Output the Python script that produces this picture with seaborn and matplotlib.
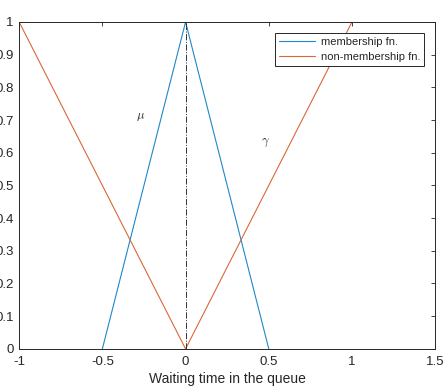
import matplotlib
matplotlib.use("Agg")
import matplotlib.pyplot as plt
import seaborn as sns
import numpy as np
import pandas as pd

mem_x = [-0.5, 0.0, 0.5]
mem_y = [0.0, 1.0, 0.0]
non_x = [-1.0, 0.0, 1.0]
non_y = [1.0, 0.0, 1.0]
vline_x = [0.0, 0.0]
vline_y = [0.0, 1.0]
xticks = [-1, -0.5, 0, 0.5, 1, 1.5]
yticks = [0, 0.1, 0.2, 0.3, 0.4, 0.5, 0.6, 0.7, 0.8, 0.9, 1]

sns.set_style("white")
plt.rcParams['font.family'] = ['Liberation Sans', 'DejaVu Sans']
plt.rcParams['mathtext.fontset'] = 'cm'

fig = plt.figure(figsize=(4.45, 3.92), dpi=100)
ax = fig.add_axes([0.043, 0.110, 0.935, 0.834])

df_mem = pd.DataFrame({"x": mem_x, "y": mem_y})
df_non = pd.DataFrame({"x": non_x, "y": non_y})
sns.lineplot(data=df_mem, x="x", y="y", sort=False, color="#1f88c8", lw=0.8,
             label="membership fn.", ax=ax)
sns.lineplot(data=df_non, x="x", y="y", sort=False, color="#d8683a", lw=0.8,
             label="non-membership fn.", ax=ax)
ax.plot(vline_x, vline_y, color="#333333", lw=0.7, ls="-.")

ax.text(-0.27, 0.71, r"$\mu$", fontsize=9, ha="center", va="center")
ax.text(0.48, 0.63, r"$\gamma$", fontsize=9, ha="center", va="center")

ax.set_xlim(-1, 1.5)
ax.set_ylim(0, 1)
ax.set_xticks(xticks)
ax.set_xticklabels([f"{t:g}" for t in xticks])
ax.set_yticks(yticks)
ax.set_yticklabels([f"{t:g}" for t in yticks])
ax.tick_params(direction="in", top=True, right=True, length=3, width=0.6,
               labelsize=9.5, colors="#262626")
ax.tick_params(axis="x", pad=5)
ax.tick_params(axis="y", pad=4)
for s in ax.spines.values():
    s.set_color("#262626")
    s.set_linewidth(0.7)
ax.set_xlabel("Waiting time in the queue", fontsize=10, color="#262626", labelpad=3)
ax.set_ylabel("")

leg = ax.legend(loc="upper right", fontsize=8.0, frameon=True, fancybox=False,
                edgecolor="#262626", framealpha=1, borderpad=0.35, borderaxespad=0,
                handlelength=3.3, handletextpad=0.5, labelspacing=0.45,
                bbox_to_anchor=(0.974, 0.966))
leg.get_frame().set_linewidth(0.7)

fig.savefig("out.png", dpi=100)
